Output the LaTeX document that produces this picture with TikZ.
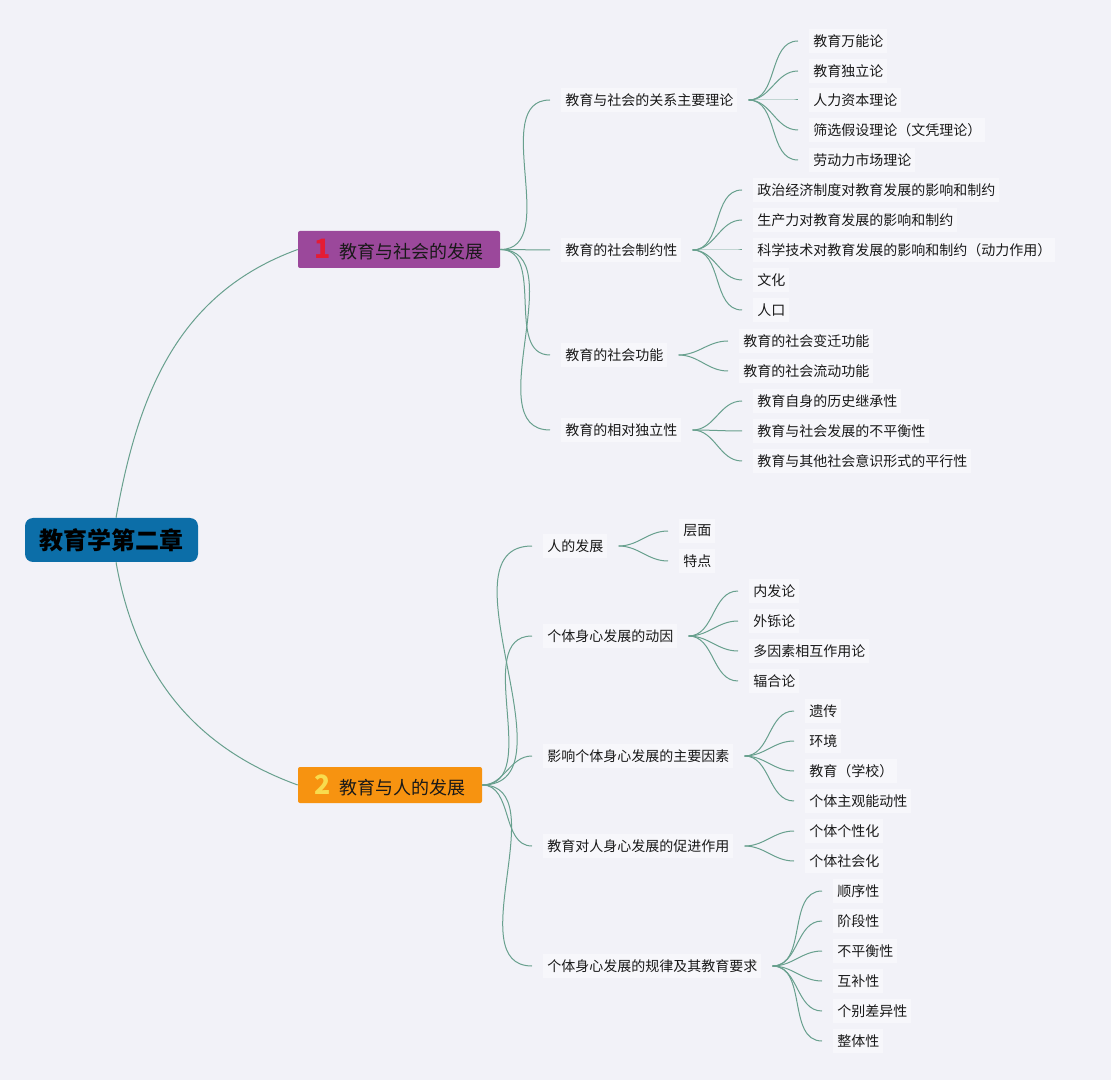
\documentclass[tikz,border=0pt]{standalone}
\usepackage{fontspec}
\setmainfont{Noto Sans CJK SC}
\definecolor{bg}{RGB}{242,242,248}
\definecolor{nodebg}{RGB}{247,247,251}
\definecolor{linec}{RGB}{104,160,142}
\definecolor{txt}{RGB}{25,25,25}
\definecolor{rootc}{RGB}{12,110,168}
\definecolor{purp}{RGB}{155,72,155}
\definecolor{orng}{RGB}{247,147,16}
\definecolor{numred}{RGB}{228,28,52}
\definecolor{numyel}{RGB}{248,220,78}
\newcommand\mmfan[3]{%
  \foreach \yy/\lbl [count=\k] in {#3} {%
    \node[leaf] (#1l\k) at (#2,\yy) {\lbl};
    \draw[conn] ([xshift=8.25pt]#1.east) to[out=0,in=180] ([xshift=-8.25pt]#1l\k.west);
  }}
\begin{document}
\begin{tikzpicture}[x=0.75pt,y=-0.75pt,
  conn/.style={draw=linec,line width=0.75pt},
  leaf/.style={anchor=west,fill=nodebg,inner xsep=3pt,inner ysep=0pt,minimum height=18pt,
    font=\fontsize{10.5pt}{12pt}\selectfont,text=txt},
  mainbox/.style={rounded corners=1.5pt,inner sep=0pt,text=txt,
    font=\fontsize{13.5pt}{15pt}\selectfont},
  rootbox/.style={fill=rootc,rounded corners=6pt,inner sep=0pt,minimum width=129.75pt,
    minimum height=33pt,text=black,font=\fontsize{18pt}{20pt}\selectfont\bfseries}]
\fill[bg] (0,0) rectangle (1111,1080);
\useasboundingbox (0,0) rectangle (1111,1080);

\node[rootbox] (root) at (111.5,540) {教育学第二章};
\node[mainbox,fill=purp,minimum width=151.5pt,minimum height=27.75pt] (m1) at (399,249.5)
  {{\color{numred}\bfseries\fontsize{20pt}{20pt}\selectfont 1}\hspace{7pt}教育与社会的发展};
\node[mainbox,fill=orng,minimum width=138pt,minimum height=27pt] (m2) at (390,785)
  {{\color{numyel}\bfseries\fontsize{20pt}{20pt}\selectfont 2}\hspace{7pt}教育与人的发展};

\draw[conn] ([xshift=3.4pt]root.north) to[out=80,in=200] (m1.west);
\draw[conn] ([xshift=3.4pt]root.south) to[out=-80,in=160] (m2.west);

\node[leaf] (a1) at (561,100) {教育与社会的关系主要理论};
\node[leaf] (a2) at (561,250) {教育的社会制约性};
\node[leaf] (a3) at (561,355) {教育的社会功能};
\node[leaf] (a4) at (561,430) {教育的相对独立性};
\node[leaf] (b1) at (543,546) {人的发展};
\node[leaf] (b2) at (543,636) {个体身心发展的动因};
\node[leaf] (b3) at (543,756) {影响个体身心发展的主要因素};
\node[leaf] (b4) at (543,846) {教育对人身心发展的促进作用};
\node[leaf] (b5) at (543,966) {个体身心发展的规律及其教育要求};

\foreach \s in {a1,a2,a3,a4}
  \draw[conn] (m1.east) to[out=0,in=180] ([xshift=-8.25pt]\s.west);
\foreach \s in {b1,b2,b3,b4,b5}
  \draw[conn] (m2.east) to[out=0,in=180] ([xshift=-8.25pt]\s.west);

\mmfan{a1}{809}{41/教育万能论,71/教育独立论,100/人力资本理论,130/筛选假设理论（文凭理论）,160/劳动力市场理论}
\mmfan{a2}{753}{190/政治经济制度对教育发展的影响和制约,220/生产力对教育发展的影响和制约,250/科学技术对教育发展的影响和制约（动力作用）,280/文化,310/人口}
\mmfan{a3}{739}{341/教育的社会变迁功能,371/教育的社会流动功能}
\mmfan{a4}{753}{401/教育自身的历史继承性,431/教育与社会发展的不平衡性,461/教育与其他社会意识形式的平行性}
\mmfan{b1}{679}{531/层面,561/特点}
\mmfan{b2}{749}{591/内发论,621/外铄论,651/多因素相互作用论,681/辐合论}
\mmfan{b3}{805}{711/遗传,741/环境,771/教育（学校）,801/个体主观能动性}
\mmfan{b4}{805}{831/个体个性化,861/个体社会化}
\mmfan{b5}{833}{891/顺序性,921/阶段性,951/不平衡性,981/互补性,1011/个别差异性,1041/整体性}
\end{tikzpicture}
\end{document}
